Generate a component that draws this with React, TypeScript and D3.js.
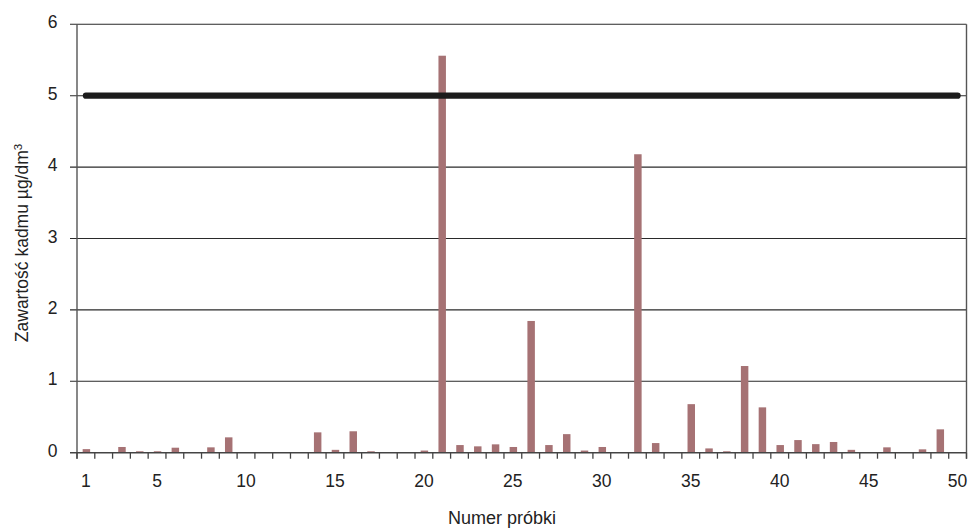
import React from "react";
import * as d3 from "d3";

const samples: number[] = Array.from({ length: 50 }, (_, i) => i + 1);
const cadmium: number[] = [
  0.05, 0.01, 0.08, 0.02, 0.02, 0.07, 0, 0.075, 0.215, 0,
  0, 0, 0, 0.285, 0.04, 0.3, 0.02, 0, 0, 0.03,
  5.56, 0.107, 0.089, 0.117, 0.08, 1.845, 0.107, 0.26, 0.03, 0.08,
  0, 4.18, 0.135, 0.005, 0.68, 0.06, 0.02, 1.214, 0.635, 0.107,
  0.177, 0.12, 0.15, 0.04, 0, 0.075, 0, 0.047, 0.327, 0,
];
const limitValue: number[] = samples.map(() => 5);
const yTicks: number[] = [0, 1, 2, 3, 4, 5, 6];
const xLabelSamples: number[] = [1, 5, 10, 15, 20, 25, 30, 35, 40, 45, 50];
const xTitle = "Numer próbki";
const yTitle = "Zawartość kadmu µg/dm";

export default function App() {
  const W = 969, H = 528;
  const left = 77, right = 966.5, top = 24.3, bottom = 452.7;
  const font = "'Liberation Sans', Arial, sans-serif";

  const x = d3.scaleBand<number>().domain(samples).range([left, right]).paddingInner(0.58).paddingOuter(0.29);
  const step = x.step();
  const y = d3.scaleLinear().domain([0, 6]).range([bottom, top]);
  const center = (s: number) => (x(s) as number) + x.bandwidth() / 2;

  const line = d3.line<number>()
    .x((_, i) => center(samples[i]))
    .y((v) => y(v));

  const boundaries = d3.range(0, samples.length + 1).map((i) => left + i * step);

  return (
    <svg width={W} height={H} style={{ position: "absolute", left: 0, top: 0 }} fontFamily={font}>
      <rect width={W} height={H} fill="#fff" />
      {yTicks.filter((t) => t > 0).map((t) => (
        <line key={t} x1={70} x2={right} y1={y(t)} y2={y(t)} stroke="#2a2a2a" strokeWidth={1.1} />
      ))}
      {cadmium.map((v, i) => (
        <rect key={i} x={(x(samples[i]) as number) + 0.5} y={y(v)} width={x.bandwidth()} height={bottom - y(v)} fill="#a67274" />
      ))}
      <path d={line(limitValue) || ""} fill="none" stroke="#1c1c1c" strokeWidth={6.2} strokeLinecap="round" />
      <line x1={left} x2={left} y1={top} y2={bottom + 6} stroke="#555" strokeWidth={1.4} />
      <line x1={right} x2={right} y1={top} y2={bottom + 6} stroke="#555" strokeWidth={1.4} />
      <line x1={70} x2={right} y1={bottom} y2={bottom} stroke="#444" strokeWidth={1.4} />
      {boundaries.map((bx, i) => (
        <line key={i} x1={bx} x2={bx} y1={bottom} y2={bottom + 6} stroke="#444" strokeWidth={1.3} />
      ))}
      {yTicks.map((t) => (
        <text key={t} x={57.5} y={y(t) + 4} textAnchor="end" fontSize={17.5} fill="#222">{t}</text>
      ))}
      {xLabelSamples.map((s) => (
        <text key={s} x={center(s)} y={487.3} textAnchor="middle" fontSize={17.5} fill="#222">{s}</text>
      ))}
      <text x={502} y={524} textAnchor="middle" fontSize={18} fill="#222">{xTitle}</text>
      <text transform={`translate(28,243) rotate(-90)`} textAnchor="middle" fontSize={17.5} fill="#222">
        {yTitle}<tspan dy={-6.5} fontSize={11.5}>3</tspan>
      </text>
    </svg>
  );
}
